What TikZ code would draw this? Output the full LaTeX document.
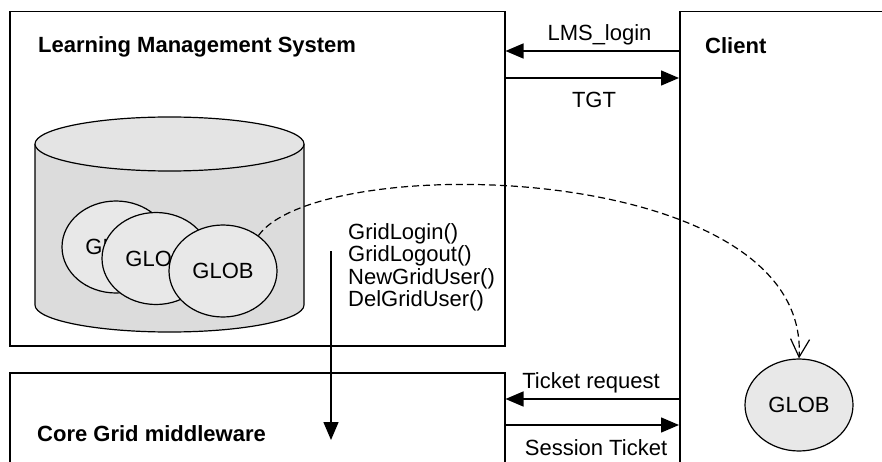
\documentclass[tikz,border=0pt]{standalone}
\usepackage{fontspec}
\setmainfont{Liberation Sans}
\usetikzlibrary{arrows.meta,shapes.geometric}
\definecolor{globfill}{HTML}{E8E8E8}
\definecolor{cylbody}{HTML}{DCDCDC}
\definecolor{cyltop}{HTML}{E4E4E4}
\begin{document}
\begin{tikzpicture}[x=1pt,y=-1pt,
  box/.style={draw,line width=1.5pt,rectangle,inner sep=0pt,anchor=north west},
  glob/.style={draw,ellipse,line width=1.2pt,fill=globfill,minimum width=108pt,minimum height=92pt,inner sep=0pt,font=\fontsize{22}{22.5}\selectfont},
  lbl/.style={inner sep=0pt,font=\fontsize{22}{22.5}\selectfont},
  blbl/.style={inner sep=0pt,font=\fontsize{22}{22.5}\selectfont\bfseries},
  msg/.style={line width=1.5pt,-{Triangle[length=18pt,width=15pt]}},
]
\useasboundingbox (0,0) rectangle (882,462);
\clip (0,0) rectangle (882,462);

% boxes
\node[box,minimum width=495pt,minimum height=334pt] (lms) at (9,11) {};
\node[box,minimum width=495pt,minimum height=150pt] (core) at (9,372) {};
\node[box,minimum width=260pt,minimum height=500pt] (client) at (679,11) {};

% labels of boxes
\node[blbl,anchor=base west] (lmsl) at (38,53) {Learning Management System};
\node[blbl,anchor=base west] (clientl) at (705,54) {Client};
\node[blbl,anchor=base west] (corel) at (37,441) {Core Grid middleware};

% cylinder
\path[fill=cylbody,draw,line width=1.2pt] (35,144) -- (35,305)
  arc[start angle=180,end angle=360,x radius=134.5pt,y radius=27pt]
  -- (304,144);
\path[fill=cyltop,draw,line width=1.2pt] (169.5,144) ellipse[x radius=134.5pt,y radius=27pt];

% GLOB ellipses
\node[glob] (g1) at (116,247) {GLOB};
\node[glob] (g2) at (156,258.5) {GLOB};
\node[glob] (g3) at (223,271) {GLOB};
\node[glob] (gr) at (799,405) {GLOB};

% messages
\draw[msg] (client.west |- 0,51) -- (lms.east |- 0,51);
\draw[msg] (lms.east |- 0,78) -- (client.west |- 0,78);
\draw[msg] (client.west |- 0,399) -- (core.east |- 0,399);
\draw[msg] (core.east |- 0,425) -- (client.west |- 0,425);

\node[lbl,anchor=base] (l1) at (599.5,41) {LMS\_login};
\node[lbl,anchor=base] (l2) at (594,108) {TGT};
\node[lbl,anchor=base] (l3) at (591,388) {Ticket request};
\node[lbl,anchor=base] (l4) at (596,455) {Session Ticket};

% API calls
\node[lbl,anchor=base west,align=left] (api) at (348,306.5)
  {GridLogin()\\GridLogout()\\NewGridUser()\\DelGridUser()};
\coordinate (vs) at (331,251);
\coordinate (ve) at (331,440);
\draw[msg] (vs) -- (ve);

% dashed curve
\draw[line width=1.2pt,dash pattern=on 7pt off 4pt,-{Straight Barb[length=18pt,width=19pt,line width=1.2pt]}]
  (g3.45) .. controls (320,150) and (810,160) .. (gr.north);
\end{tikzpicture}
\end{document}
